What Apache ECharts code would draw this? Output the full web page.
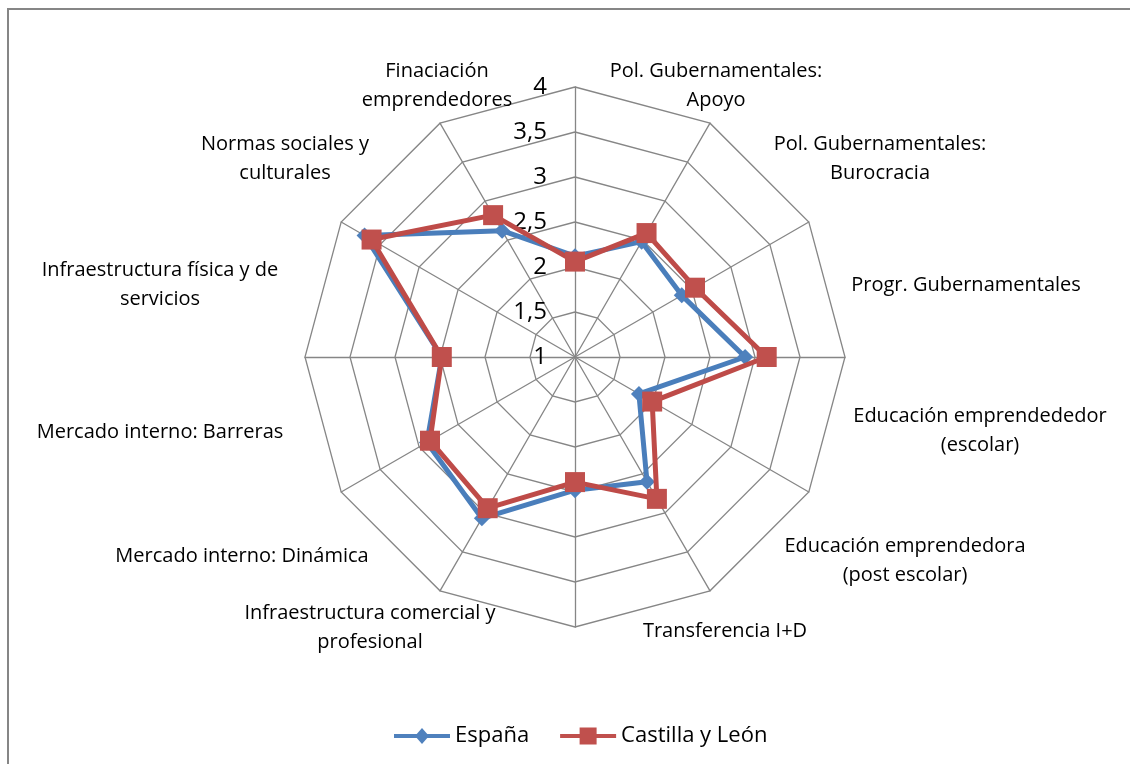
<!DOCTYPE html>
<html>
<head>
<meta charset="utf-8">
<title>Condiciones del entorno emprendedor</title>
<script src="https://cdn.jsdelivr.net/npm/echarts@6/dist/echarts.min.js"></script>
<style>
  html, body { margin: 0; padding: 0; background: #ffffff; }
  #chart { width: 1130px; height: 764px; }
</style>
</head>
<body>
<div id="chart"></div>
<script>
// Categories, clockwise from the top axis
const categories = [
  'Finaciación\nemprendedores',
  'Pol. Gubernamentales:\nApoyo',
  'Pol. Gubernamentales:\nBurocracia',
  'Progr. Gubernamentales',
  'Educación emprendededor\n(escolar)',
  'Educación emprendedora\n(post escolar)',
  'Transferencia I+D',
  'Infraestructura comercial y\nprofesional',
  'Mercado interno: Dinámica',
  'Mercado interno: Barreras',
  'Infraestructura física y de\nservicios',
  'Normas sociales y\nculturales'
];

const seriesNames = ['España', 'Castilla y León'];

const espana = [2.12, 2.48, 2.37, 2.89, 1.82, 2.60, 2.48, 3.07, 2.90, 2.48, 3.70, 2.62];
const castillaLeon = [2.06, 2.59, 2.54, 3.13, 1.99, 2.82, 2.39, 2.94, 2.86, 2.48, 3.61, 2.82];

const scaleMin = 1;
const scaleMax = 4;
const scaleStep = 0.5;

// Layout
const CENTER = [575, 357];
const RADIUS = 270;
const FONT = '"Open Sans", Lato, sans-serif';

// Category label anchor points (text centres), same order as categories
const labelAnchors = [
  [437, 86], [716, 86], [880, 159], [966, 285],
  [980, 431], [905, 561], [725, 631], [370, 628],
  [242, 556], [160, 432], [160, 285], [285, 159]
];

// ECharts lays radar indicators out counter-clockwise; reorder so the
// categories run clockwise from the top.
const n = categories.length;
const order = categories.map((_, i) => (n - i) % n);
const reorder = arr => order.map(k => arr[k]);

// Legend icons: a line with the series marker in the middle (56 x 18 box)
const iconDiamond = 'path://M0,7L56,7L56,11L0,11Z M28,1L35,9L28,17L21,9Z';
const iconSquare = 'path://M0,7L56,7L56,11L0,11Z M19.5,0.5L36.5,0.5L36.5,17.5L19.5,17.5Z';

const chart = echarts.init(document.getElementById('chart'), null, { renderer: 'canvas' });

const nameTexts = categories.map((name, i) => ({
  type: 'text',
  x: labelAnchors[i][0],
  y: labelAnchors[i][1],
  z: 10,
  style: {
    text: name,
    font: '20px ' + FONT,
    fill: '#000000',
    align: 'center',
    verticalAlign: 'middle',
    lineHeight: 29
  }
}));

const fmt = v => String(v).replace('.', ',');

chart.setOption({
  backgroundColor: '#ffffff',
  animation: false,
  textStyle: { fontFamily: FONT },
  legend: {
    top: 720,
    left: 389,
    data: [
      { name: seriesNames[0], icon: iconDiamond },
      { name: seriesNames[1], icon: iconSquare }
    ],
    itemWidth: 56,
    itemHeight: 18,
    itemGap: 31,
    textStyle: { fontSize: 22, color: '#000000', fontFamily: FONT }
  },
  radar: {
    center: CENTER,
    radius: RADIUS,
    startAngle: 90,
    splitNumber: (scaleMax - scaleMin) / scaleStep,
    shape: 'polygon',
    indicator: reorder(categories).map(name => ({ name: name, min: scaleMin, max: scaleMax })),
    axisName: { show: false },
    axisLine: { lineStyle: { color: '#868686', width: 1.3 } },
    splitLine: { lineStyle: { color: '#868686', width: 1.3 } },
    splitArea: { show: false },
    axisTick: { show: false },
    axisLabel: { show: false }
  },
  // Polar system used only to print the value scale along the top axis
  polar: { center: CENTER, radius: RADIUS },
  angleAxis: { show: false, startAngle: 90, min: 0, max: 360 },
  radiusAxis: {
    min: scaleMin,
    max: scaleMax,
    interval: scaleStep,
    axisLine: { show: false },
    axisTick: { show: false },
    splitLine: { show: false },
    axisLabel: {
      show: true,
      margin: 28,
      color: '#000000',
      fontSize: 24,
      fontFamily: FONT,
      padding: [6, 0, 0, 0],
      formatter: fmt
    }
  },
  graphic: [
    {
      type: 'polyline',
      shape: { points: [[8, 800], [8, 9], [1200, 9]] },
      style: { fill: null, stroke: '#868686', lineWidth: 2 },
      silent: true,
      z: -1
    }
  ].concat(nameTexts),
  series: [
    {
      name: seriesNames[0],
      type: 'radar',
      z: 2,
      symbol: 'diamond',
      symbolSize: 16,
      lineStyle: { color: '#4A7EBB', width: 5 },
      itemStyle: { color: '#4F81BD' },
      data: [{ name: seriesNames[0], value: reorder(espana) }]
    },
    {
      name: seriesNames[1],
      type: 'radar',
      z: 3,
      symbol: 'rect',
      symbolSize: 20,
      lineStyle: { color: '#BE4B48', width: 5 },
      itemStyle: { color: '#C0504D' },
      data: [{ name: seriesNames[1], value: reorder(castillaLeon) }]
    }
  ]
});
</script>
</body>
</html>
